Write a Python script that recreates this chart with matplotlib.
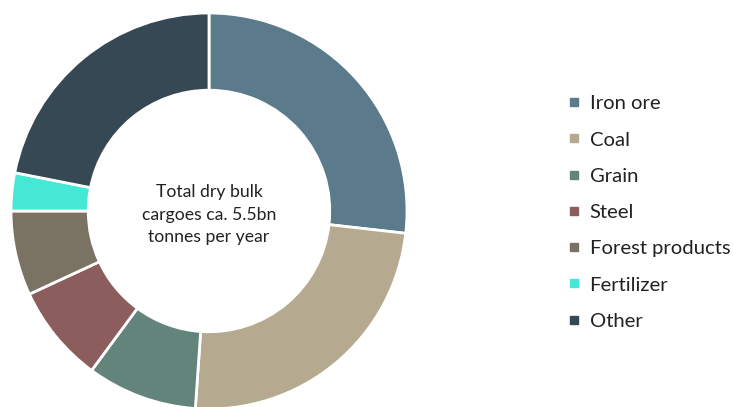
import matplotlib.pyplot as plt
from matplotlib.lines import Line2D

plt.rcParams['font.family'] = ['Lato', 'DejaVu Sans']

cargoes = ['Iron ore', 'Coal', 'Grain', 'Steel', 'Forest products', 'Fertilizer', 'Other']
shares = [26.8, 24.3, 9.0, 8.0, 6.9, 3.1, 21.9]
colours = ['#5b7a8b', '#b5aa8f', '#62847b', '#8b5e5d', '#7a7263', '#45e8d5', '#364853']
centre_label = 'Total dry bulk\ncargoes ca. 5.5bn\ntonnes per year'


def main():
    fig = plt.figure(figsize=(7.33, 4.07), dpi=100)
    ax = fig.add_axes([11 / 733, -2 / 407, 396 / 733, 396 / 407])

    ax.pie(shares, colors=colours, startangle=90, counterclock=False,
           radius=1, wedgeprops=dict(width=0.39, edgecolor='white', linewidth=2))
    ax.set_xlim(-1, 1)
    ax.set_ylim(-1, 1)
    ax.set_aspect('equal')
    ax.axis('off')

    ax.text(0, -0.02, centre_label, ha='center', va='center',
            fontsize=12.7, linespacing=1.5, color='#222222')

    handles = [Line2D([], [], marker='s', linestyle='', markersize=6,
                      markerfacecolor=c, markeredgecolor=c) for c in colours]
    fig.legend(handles, cargoes, loc='center left', bbox_to_anchor=(550 / 733, 0.478),
               frameon=False, fontsize=14.6, labelspacing=0.94, handlelength=0.6,
               handletextpad=0.45, labelcolor='#222222')

    fig.savefig('out.png', dpi=100, facecolor='white')


if __name__ == '__main__':
    main()
